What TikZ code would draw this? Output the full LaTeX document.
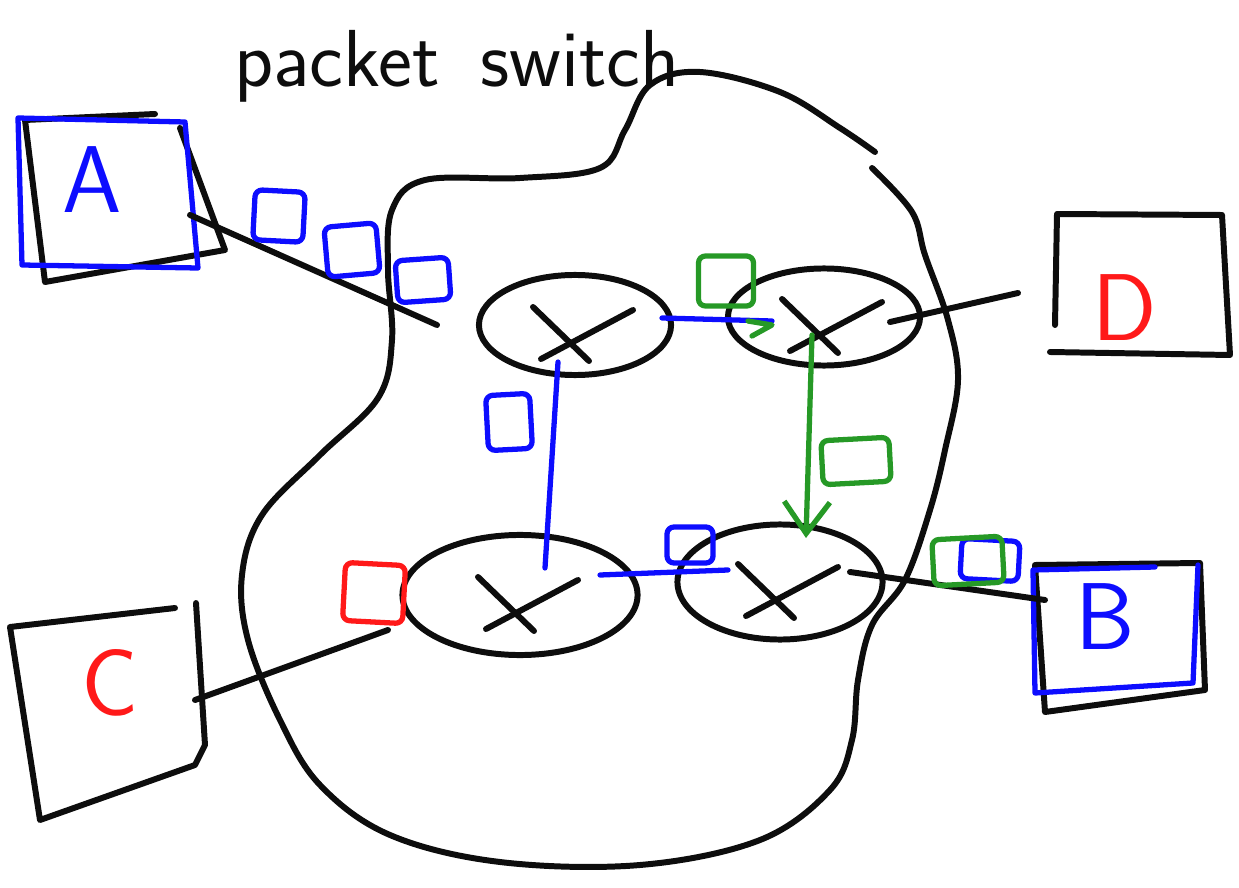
\documentclass[tikz,border=0pt]{standalone}
\usepackage{tikz}
\usetikzlibrary{shapes.geometric, arrows.meta, calc}
\definecolor{pen}{rgb}{0.05,0.05,0.05}
\definecolor{pblue}{rgb}{0.05,0.05,1}
\definecolor{pred}{rgb}{1,0.1,0.1}
\definecolor{pgreen}{rgb}{0.15,0.6,0.15}
\tikzset{
    ink/.style={line width=1.7pt, line cap=round, line join=round},
    cink/.style={line width=1.5pt, line cap=round, line join=round},
    router/.style={ellipse, draw=pen, ink, inner sep=0pt},
    pkt/.style={draw, cink, rounded corners=2pt, inner sep=0pt, minimum width=0.5cm, minimum height=0.5cm},
    hostlabel/.style={font=\fontsize{27}{27}\selectfont\sffamily}
}

\begin{document}
\begin{tikzpicture}[x={(0.01cm,0)}, y={(0,-0.01cm)}]
    \useasboundingbox (0,0) rectangle (1239,888);

    % Title
    \node[font=\fontsize{23}{23}\selectfont\sffamily, text=pen] (title) at (457,66) {packet\enspace switch};

    % Cloud of the network
    \draw[ink, pen] plot[smooth, tension=0.6] coordinates {
        (872,168) (912,212) (925,255) (948,320) (958,380) (945,450) (930,510)
        (905,580) (872,625) (858,680) (852,740) (830,790) (760,840) (640,865)
        (500,862) (390,835) (320,785) (280,720) (248,640) (242,575) (262,515)
        (320,455) (378,398) (392,340) (388,270) (392,210) (425,180) (520,178)
        (600,168) (625,130) (650,85) (700,72) (780,92) (840,128) (875,152)};

    % Routers
    \node[router, minimum width=1.92cm, minimum height=1.0cm] (r1) at (575,325) {};
    \node[router, minimum width=1.92cm, minimum height=0.97cm] (r2) at (824,317) {};
    \node[router, minimum width=2.35cm, minimum height=1.2cm] (r3) at (520,595) {};
    \node[router, minimum width=2.05cm, minimum height=1.15cm] (r4) at (780,582) {};
    \foreach \r in {r1, r2, r3, r4} {
        \draw[ink, pen] ($(\r)+(-42,-18)$) -- ($(\r)+(14,36)$);
        \draw[ink, pen] ($(\r)+(-34,34)$) -- ($(\r)+(58,-15)$);
    }

    % Hosts
    \draw[ink, pen] (25,120) -- (155,114) (180,128) -- (225,250) -- (45,282) -- (25,120);
    \draw[cink, pblue] (18,118) -- (185,122) -- (198,268) -- (22,265) -- cycle;
    \node[hostlabel, text=pblue] (A) at (92,180) {A};

    \draw[ink, pen] (1055,325) -- (1057,214) -- (1222,215) -- (1230,355) -- (1050,352);
    \node[hostlabel, text=pred] (D) at (1125,308) {D};

    \draw[ink, pen] (175,608) -- (10,627) -- (40,820) -- (195,765) -- (205,745) -- (196,603);
    \node[hostlabel, text=pred] (C) at (110,683) {C};

    \draw[ink, pen] (1035,565) -- (1200,563) -- (1205,690) -- (1045,712) -- cycle;
    \draw[cink, pblue] (1155,567) -- (1033,570) -- (1035,693) -- (1193,683) -- (1198,565);
    \node[hostlabel, text=pblue] (B) at (1105,617) {B};

    % Access links
    \coordinate (a-out) at (190,215);
    \coordinate (r1-in) at (437,325);
    \coordinate (c-out) at (195,700);
    \coordinate (r3-in) at (388,630);
    \coordinate (r4-out) at (850,572);
    \coordinate (b-in) at (1045,600);
    \coordinate (r2-out) at (890,322);
    \coordinate (d-in) at (1018,293);
    \draw[ink, pen] (a-out) -- (r1-in);
    \draw[ink, pen] (c-out) -- (r3-in);
    \draw[ink, pen] (r4-out) -- (b-in);
    \draw[ink, pen] (r2-out) -- (d-in);

    % Internal links
    \coordinate (r1-e) at (662,318);
    \coordinate (r2-w) at (772,321);
    \coordinate (r1-s) at (558,362);
    \coordinate (r3-n) at (545,568);
    \coordinate (r3-e) at (600,575);
    \coordinate (r4-w) at (728,570);
    \coordinate (r2-s) at (812,335);
    \coordinate (r4-n) at (806,538);
    \draw[cink, pblue] (r1-e) -- (r2-w);
    \draw[cink, pblue] (r1-s) -- (r3-n);
    \draw[cink, pblue] (r3-e) -- (r4-w);
    \draw[cink, pgreen] (748,321) -- (772,325) -- (752,336);
    \draw[cink, pgreen, -{Straight Barb[length=9pt, width=13pt]}] (r2-s) -- (r4-n);

    % Packets
    \node[pkt, draw=pblue, rotate=-3] (pa1) at (279,216) {};
    \node[pkt, draw=pblue, minimum width=0.52cm, rotate=5] (pa2) at (352,250) {};
    \node[pkt, draw=pblue, minimum width=0.53cm, minimum height=0.42cm, rotate=4] (pa3) at (423,280) {};
    \node[pkt, draw=pblue, minimum width=0.44cm, minimum height=0.55cm, rotate=3] (pa4) at (509,422) {};
    \node[pkt, draw=pblue, minimum width=0.46cm, minimum height=0.36cm] (pa5) at (690,545) {};
    \node[pkt, draw=pblue, minimum width=0.58cm, minimum height=0.4cm, rotate=-3] (pa6) at (990,560) {};
    \node[pkt, draw=pgreen, minimum width=0.55cm, minimum height=0.5cm] (pg1) at (726,281) {};
    \node[pkt, draw=pgreen, minimum width=0.68cm, minimum height=0.44cm, rotate=3] (pg2) at (856,461) {};
    \node[pkt, draw=pgreen, minimum width=0.7cm, minimum height=0.46cm, rotate=3] (pg3) at (968,561) {};
    \node[pkt, draw=pred, minimum width=0.6cm, minimum height=0.58cm, rotate=-3] (pr1) at (374,593) {};
\end{tikzpicture}
\end{document}
